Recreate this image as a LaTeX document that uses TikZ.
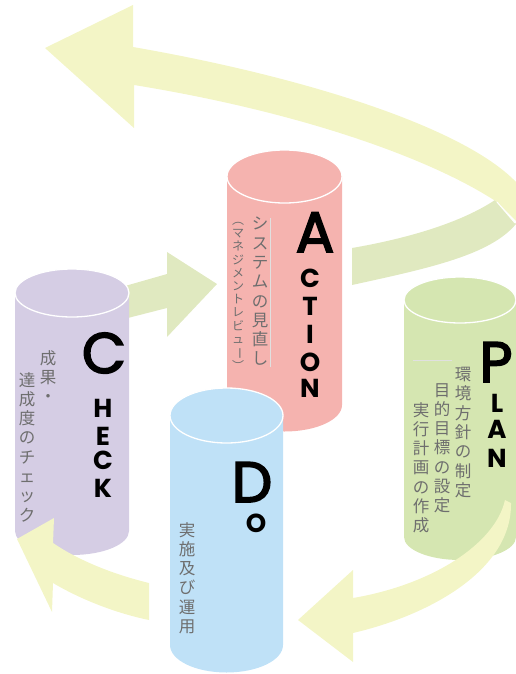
\documentclass[tikz,border=0pt]{standalone}
\usepackage{fontspec}
\newfontfamily\jp{Noto Sans CJK JP}
\newfontfamily\latbig{Poppins}[FakeBold=3]
\newfontfamily\lat{Poppins}
\definecolor{actc}{HTML}{F5B3AF}
\definecolor{chkc}{HTML}{D5CDE4}
\definecolor{doc}{HTML}{BFE1F7}
\definecolor{plnc}{HTML}{D5E6B1}
\definecolor{ayel}{HTML}{F3F5C6}
\definecolor{agrn}{HTML}{E0E9C0}
\definecolor{jpgray}{HTML}{6E6E6E}
\newcommand\mycyl[6]{%
  \fill[#6] (#1-#4,#2) -- (#1-#4,#3) arc[start angle=180,end angle=0,x radius=#4,y radius=#5] -- (#1+#4,#2) -- cycle;
  \filldraw[fill=#6,draw=white,line width=1.3pt] (#1,#2) ellipse[x radius=#4,y radius=#5];}
\newcommand\vr[1]{\rotatebox[origin=c]{-90}{#1}}
\tikzset{
  jpv/.style={font=\jp\fontsize{16.5}{19.3}\selectfont,align=center,inner sep=0pt,anchor=north,text=jpgray},
  jps/.style={font=\jp\fontsize{12}{13.2}\selectfont,align=center,inner sep=0pt,anchor=north,text=jpgray},
  bigl/.style={font=\latbig\fontsize{57}{57}\selectfont,anchor=base,inner sep=0pt,text height=39pt,text depth=0pt},
  smal/.style={font=\lat\bfseries\fontsize{26}{26}\selectfont,anchor=base,inner sep=0pt,text height=19pt,text depth=0pt},
  faint/.style={draw=black!12,line width=0.5pt}
}
\begin{document}
\begin{tikzpicture}[x=1pt,y=-1pt]
\useasboundingbox (0,0) rectangle (516,674);
\clip (0,0) rectangle (516,674);

% big ribbon arrow (Action -> top)
\fill[agrn] (352,248) .. controls (410,238) and (462,222) .. (495,200) -- (516,224)
  .. controls (490,255) and (430,268) .. (352,285) -- cycle;
\fill[ayel] (45,48) -- (133,5) -- (133,47) .. controls (300,76) and (462,126) .. (516,182)
  -- (516,221) -- (497,202) .. controls (430,158) and (300,112) .. (134,85) -- (134,128) -- cycle;
\draw[white,line width=1pt] (497,202) -- (515,223);

% Check -> Action arrow
\fill[agrn] (118,288) -- (167,274) -- (167,252) -- (217,284) -- (167,337) -- (167,308) -- (120,320) -- cycle;

% ACTION cylinder
\mycyl{284.5}{176.5}{405}{57.5}{26.5}{actc}
\draw[faint] (270,218) -- (270,367);
\node[jpv] (act1) at (260,217) {シ\\ス\\テ\\ム\\の\\見\\直\\し};
\node[jps] (act2) at (238,222) {︵\\マ\\ネ\\ジ\\メ\\ン\\ト\\レ\\ビ\\ュ\\\vr{ー}\\︶};
\node[bigl] (aA) at (315,252) {A};
\node[smal] (aC) at (310,287) {C};
\node[smal] (aT) at (310,315) {T};
\node[smal] (aI) at (310,343) {I};
\node[smal] (aO) at (310,371.5) {O};
\node[smal] (aN) at (310,397) {N};

% CHECK cylinder
\mycyl{72}{293}{531}{57}{24}{chkc}
\node[jpv] (chk1) at (48,350) {成\\果\\・};
\node[jpv] (chk2) at (27,372) {達\\成\\度\\の\\チ\\ェ\\ッ\\ク};
\node[bigl] (cC) at (104,373) {C};
\node[smal] (cH) at (103,417) {H};
\node[smal] (cE) at (103,445) {E};
\node[smal] (cC2) at (103,469.5) {C};
\node[smal] (cK) at (103,497) {K};

% Do -> Check arrow
\fill[ayel] (149,583) .. controls (112,574) and (78,560) .. (53,543) -- (54,518) -- (17,539)
  -- (52,612) -- (53,583) .. controls (80,599) and (115,613) .. (149,620) -- cycle;

% PLAN cylinder
\mycyl{460}{300}{537}{56}{23}{plnc}
\draw[faint] (413,360) -- (452,360);
\node[jpv] (pl1) at (463,367) {環\\境\\方\\針\\の\\制\\定};
\node[jpv] (pl2) at (442,383) {目\\的\\目\\標\\の\\設\\定};
\node[jpv] (pl3) at (421,402) {実\\行\\計\\画\\の\\作\\成};
\node[bigl] (pP) at (496,382) {P};
\node[smal] (pL) at (497,412) {L};
\node[smal] (pA) at (497,438) {A};
\node[smal] (pN) at (497,467) {N};

% Plan -> Do arrow
\fill[ayel] (511,503) .. controls (512,570) and (430,615) .. (353,633) -- (353,662) -- (298,620)
  -- (353,570) -- (353,598) .. controls (430,585) and (495,545) .. (505,500) -- cycle;

% DO cylinder
\mycyl{226.5}{415.5}{645}{56.5}{27.5}{doc}
\node[jpv] (do1) at (187,522) {実\\施\\及\\び\\運\\用};
\node[bigl] (dD) at (252,502) {D};
\node[smal] (dO) at (256,532.5) {O};
\end{tikzpicture}
\end{document}
